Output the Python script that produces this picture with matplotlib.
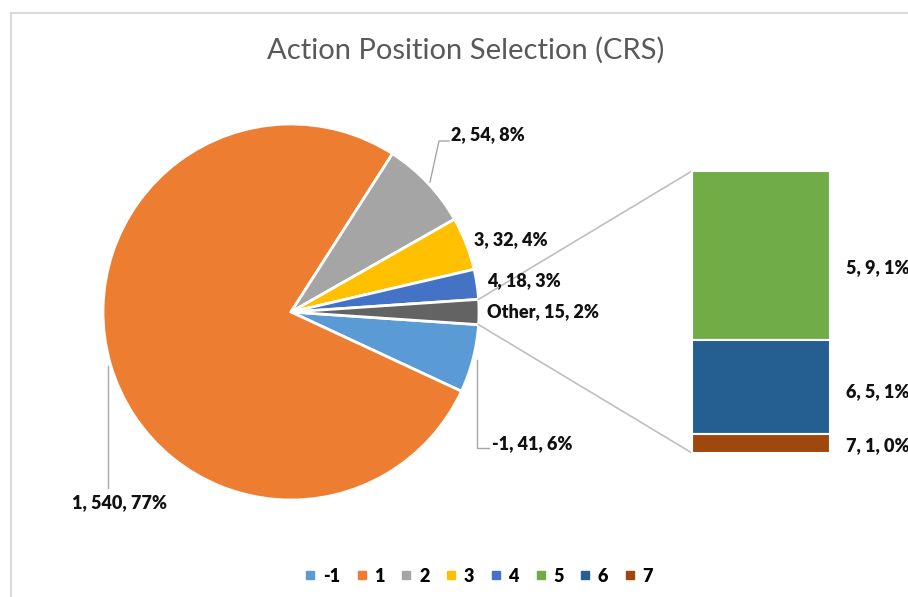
import matplotlib.pyplot as plt
import numpy as np
from matplotlib.lines import Line2D

plt.rcParams['font.family'] = ['Lato', 'DejaVu Sans']

# pie part (clockwise from just below 3 o'clock)
pie_names = ['-1', '1', '2', '3', '4', 'Other']
pie_vals = [41, 540, 54, 32, 18, 15]
pie_pcts = ['6%', '77%', '8%', '4%', '3%', '2%']
pie_cols = ['#5B9BD5', '#ED7D31', '#A5A5A5', '#FFC000', '#4472C4', '#636363']

# secondary bar (the "Other" slice split up)
bar_names = ['5', '6', '7']
bar_vals = [9, 5, 1]
bar_pcts = ['1%', '1%', '0%']
bar_cols = ['#70AD47', '#255E91', '#9E480E']

W, H = 908, 597
fig = plt.figure(figsize=(W / 100, H / 100), dpi=100)
ax = fig.add_axes([0, 0, 1, 1])

cx, cy, r = 291, 312, 188
other_deg = pie_vals[-1] / sum(pie_vals) * 360
# y axis is flipped (pixel coords), so counterclock in data = clockwise on screen
wedges, _ = ax.pie(pie_vals, colors=pie_cols, startangle=other_deg / 2,
                   counterclock=True, center=(cx, cy), radius=r,
                   wedgeprops=dict(edgecolor='white', linewidth=2))

# bar of the "Other" slice
bx, bw, btop, bbot = 692, 138, 171, 453
scale = (bbot - btop) / sum(bar_vals)
bottoms = btop + scale * np.concatenate([[0], np.cumsum(bar_vals)[:-1]])
ax.bar(bx, np.array(bar_vals) * scale, width=bw, bottom=bottoms, align='edge',
       color=bar_cols, edgecolor='white', linewidth=1.5, zorder=3)

# connector lines from the Other slice to the bar corners
a1 = np.deg2rad(-other_deg / 2)
a2 = np.deg2rad(other_deg / 2)
lc = '#BFBFBF'
ax.plot([cx + r * np.cos(a1), bx], [cy + r * np.sin(a1), btop], color=lc, lw=1.2)
ax.plot([cx + r * np.cos(a2), bx], [cy + r * np.sin(a2), bbot], color=lc, lw=1.2)

# data labels
lab_kw = dict(va='center', fontsize=13, fontweight='heavy', color='#111111')
lab_pos = [(492, 444, 'left'), (120, 503, 'center'), (451, 135, 'left'),
           (474, 240, 'left'), (487, 281, 'left'), (487, 312, 'left')]
for n, v, p, (x, y, ha) in zip(pie_names, pie_vals, pie_pcts, lab_pos):
    ax.text(x, y, f'{n}, {v}, {p}', ha=ha, **lab_kw)
bar_lab_y = [268, 392, 446]
for n, v, p, y in zip(bar_names, bar_vals, bar_pcts, bar_lab_y):
    ax.text(846, y, f'{n}, {v}, {p}', ha='left', **lab_kw)

# leader lines
ldc = '#A6A6A6'
ax.plot([430, 439, 449], [182, 141, 141], color=ldc, lw=1)
ax.plot([477, 477, 489], [360, 448, 448], color=ldc, lw=1)
ax.plot([108, 108], [366, 488], color=ldc, lw=1)

# chart frame
ax.plot([11, W], [13, 13], color='#D9D9D9', lw=1.5)
ax.plot([11, 11], [13, H], color='#D9D9D9', lw=1.5)

ax.text(466, 50, 'Action Position Selection (CRS)', ha='center', va='center',
        fontsize=21, color='#595959')

handles = [Line2D([], [], marker='s', ls='', color=c, markersize=6)
           for c in pie_cols[:-1] + bar_cols]
names = pie_names[:-1] + bar_names
fig.legend(handles, names, loc='center', bbox_to_anchor=(479 / W, 1 - 576 / H),
           ncol=8, frameon=False, handlelength=0.6, handletextpad=0.4,
           columnspacing=0.9, prop=dict(weight='heavy', size=13))

ax.set_xlim(0, W)
ax.set_ylim(H, 0)
ax.set_aspect('auto')
ax.axis('off')
fig.savefig('out.png', dpi=100)
